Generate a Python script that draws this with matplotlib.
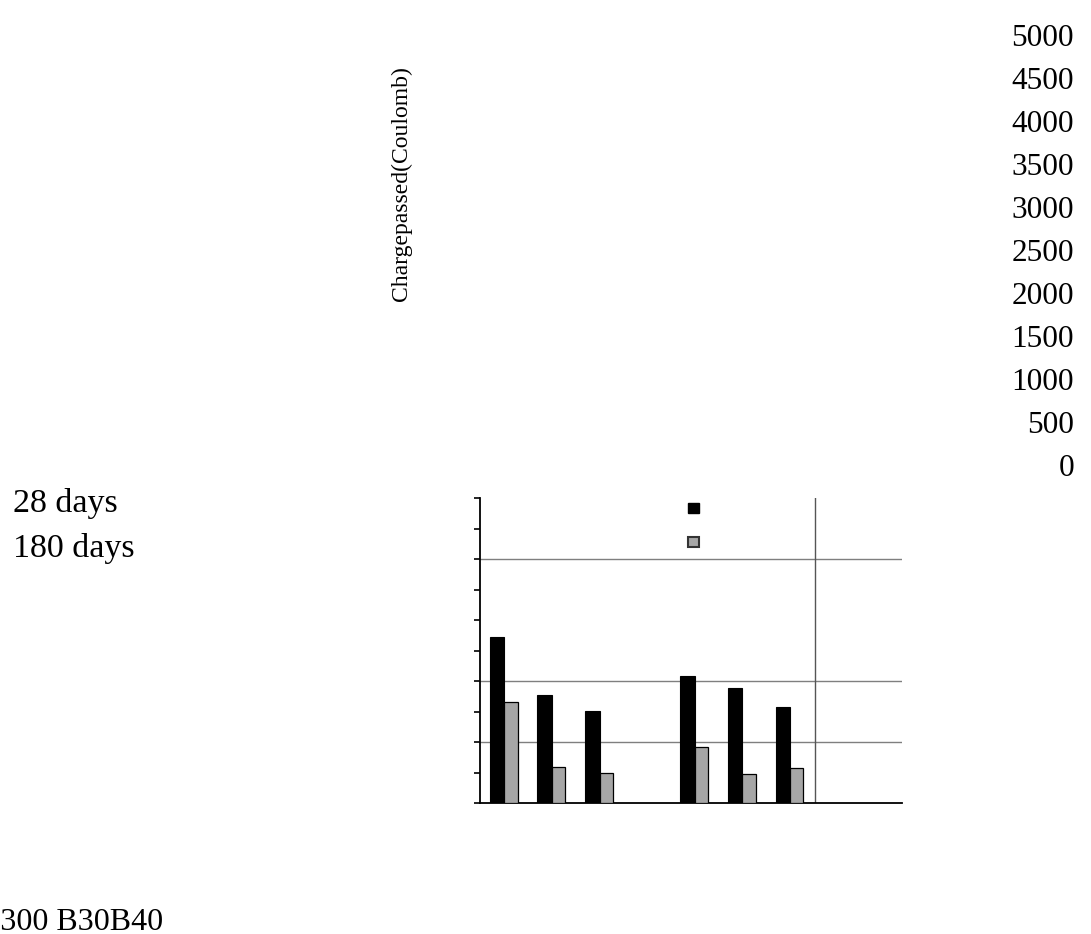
import numpy as np
import matplotlib.pyplot as plt
from matplotlib.patches import Patch

plt.rcParams['font.family'] = ['Liberation Serif', 'DejaVu Serif']

# data (4th slot is an empty group)
groups = ['1', '2', '3', '4', '5', '6', '7']
days28 = [2726, 1765, 1503, np.nan, 2077, 1885, 1578]
days180 = [1660, 585, 497, np.nan, 913, 475, 569]
series_names = ['28 days', '180 days']
yticks = [0, 500, 1000, 1500, 2000, 2500, 3000, 3500, 4000, 4500, 5000]
grid_at = [1000, 2000, 4000]
cat_text = ['B300', 'B30B40']

fig = plt.figure(figsize=(10.91, 9.34), dpi=100)
ax = fig.add_axes([480 / 1091, 1 - 803 / 934, 422 / 1091, 305 / 934])

x = np.arange(len(groups))
w = 0.305
ax.bar(x - w / 2, days28, w, color='black', edgecolor='black', linewidth=0.8, zorder=3)
ax.bar(x + 0.28 / 2, days180, 0.28, color='#a6a6a6', edgecolor='black', linewidth=0.9, zorder=3)

for g in grid_at:
    ax.axhline(g, color='#7f7f7f', lw=1.0, zorder=1)
ax.axvline(6.52, color='#555555', lw=1.0, zorder=1)

ax.set_xlim(-0.51, 8.35)
ax.set_ylim(0, 5000)
ax.set_yticks(yticks)
ax.set_yticklabels([])
ax.set_xticks([])
ax.tick_params(axis='y', direction='out', length=4.3, width=1.2, color='black')
for s in ['top', 'right']:
    ax.spines[s].set_visible(False)
ax.spines['left'].set_linewidth(1.3)
ax.spines['bottom'].set_linewidth(1.3)

# legend markers (their labels end up displaced to the left)
handles = [Patch(facecolor='black', edgecolor='black'),
           Patch(facecolor='#a6a6a6', edgecolor='#333333', linewidth=1.5)]
fig.legend(handles, ['', ''], loc='center', bbox_to_anchor=(693.5 / 1091, 1 - 525 / 934),
           frameon=False, prop={'size': 8}, handlelength=1.0, handleheight=1.0,
           handletextpad=0, labelspacing=2.1, borderpad=0)

# displaced texts
for i, t in enumerate(yticks[::-1]):
    fig.text(1074 / 1091, 1 - (39 + 42.9 * i) / 934, str(t), ha='right', va='center', fontsize=22.5)
for i, name in enumerate(series_names):
    fig.text(13 / 1091, 1 - (512 + 45 * i) / 934, name, ha='left', va='baseline', fontsize=24.5)
fig.text(401 / 1091, 1 - 184 / 934, 'Chargepassed(Coulomb)', rotation=90,
         ha='center', va='center', fontsize=17)
fig.text(-21 / 1091, 1 - 930 / 934, ' '.join(cat_text), ha='left', va='baseline', fontsize=23)

fig.savefig('out.png', dpi=100)
